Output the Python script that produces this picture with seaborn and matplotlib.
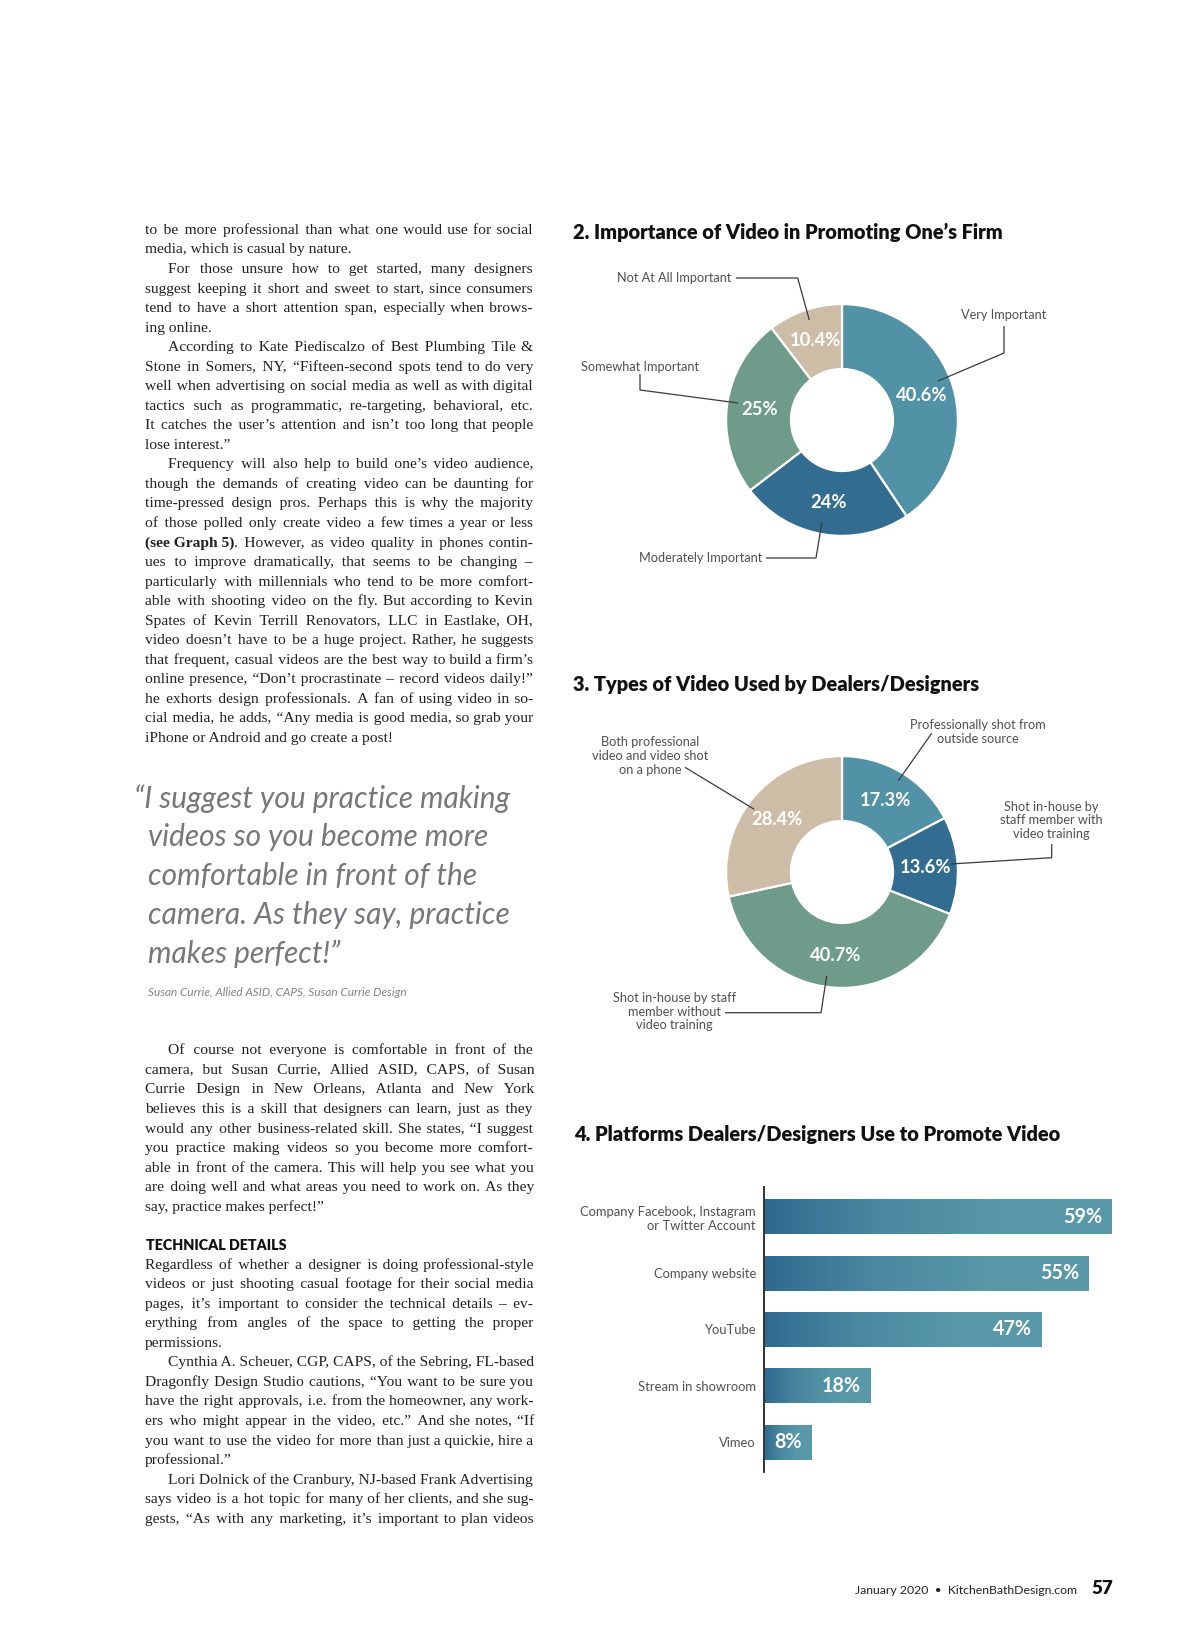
import numpy as np
import pandas as pd
import seaborn as sns
import matplotlib.pyplot as plt
from matplotlib.colors import LinearSegmentedColormap
from matplotlib.font_manager import FontProperties

W, H = 1200, 1639

# --- chart 2: importance of video
imp_labels = ["Very Important", "Moderately Important", "Somewhat Important", "Not At All Important"]
imp_values = [40.6, 24, 25, 10.4]
imp_text = ["40.6%", "24%", "25%", "10.4%"]

# --- chart 3: types of video
type_labels = [
    "Professionally shot from\noutside source",
    "Shot in-house by\nstaff member with\nvideo training",
    "Shot in-house by staff\nmember without\nvideo training",
    "Both professional\nvideo and video shot\non a phone",
]
type_values = [17.3, 13.6, 40.7, 28.4]
type_text = ["17.3%", "13.6%", "40.7%", "28.4%"]

# --- chart 4: platforms
platforms = [
    "Company Facebook, Instagram\nor Twitter Account",
    "Company website",
    "YouTube",
    "Stream in showroom",
    "Vimeo",
]
platform_share = [59, 55, 47, 18, 8]

ring_colors = ["#5292a6", "#326c91", "#6f9b8a", "#cdbda7"]

# --- article text, one entry per printed line: (indent first line, lines, justify last line)
col1_top = [
    (False, ["to be more professional than what one would use for social",
             "media, which is casual by nature."], False),
    (True, ["For those unsure how to get started, many designers",
            "suggest keeping it short and sweet to start, since consumers",
            "tend to have a short attention span, especially when brows-",
            "ing online."], False),
    (True, ["According to Kate Piediscalzo of Best Plumbing Tile &",
            "Stone in Somers, NY, “Fifteen-second spots tend to do very",
            "well when advertising on social media as well as with digital",
            "tactics such as programmatic, re-targeting, behavioral, etc.",
            "It catches the user’s attention and isn’t too long that people",
            "lose interest.”"], False),
    (True, ["Frequency will also help to build one’s video audience,",
            "though the demands of creating video can be daunting for",
            "time-pressed design pros. Perhaps this is why the majority",
            "of those polled only create video a few times a year or less",
            "**(see Graph 5)**. However, as video quality in phones contin-",
            "ues to improve dramatically, that seems to be changing –",
            "particularly with millennials who tend to be more comfort-",
            "able with shooting video on the fly. But according to Kevin",
            "Spates of Kevin Terrill Renovators, LLC in Eastlake, OH,",
            "video doesn’t have to be a huge project. Rather, he suggests",
            "that frequent, casual videos are the best way to build a firm’s",
            "online presence, “Don’t procrastinate – record videos daily!”",
            "he exhorts design professionals. A fan of using video in so-",
            "cial media, he adds, “Any media is good media, so grab your",
            "iPhone or Android and go create a post!"], False),
]
col1_mid = [
    (True, ["Of course not everyone is comfortable in front of the",
            "camera, but Susan Currie, Allied ASID, CAPS, of Susan",
            "Currie Design in New Orleans, Atlanta and New York",
            "believes this is a skill that designers can learn, just as they",
            "would any other business-related skill. She states, “I suggest",
            "you practice making videos so you become more comfort-",
            "able in front of the camera. This will help you see what you",
            "are doing well and what areas you need to work on. As they",
            "say, practice makes perfect!”"], False),
]
col1_bottom = [
    (False, ["Regardless of whether a designer is doing professional-style",
             "videos or just shooting casual footage for their social media",
             "pages, it’s important to consider the technical details – ev-",
             "erything from angles of the space to getting the proper",
             "permissions."], False),
    (True, ["Cynthia A. Scheuer, CGP, CAPS, of the Sebring, FL-based",
            "Dragonfly Design Studio cautions, “You want to be sure you",
            "have the right approvals, i.e. from the homeowner, any work-",
            "ers who might appear in the video, etc.” And she notes, “If",
            "you want to use the video for more than just a quickie, hire a",
            "professional.”"], False),
    (True, ["Lori Dolnick of the Cranbury, NJ-based Frank Advertising",
            "says video is a hot topic for many of her clients, and she sug-",
            "gests, “As with any marketing, it’s important to plan videos"], True),
]
quote_lines = ["“I suggest you practice making", "videos so you become more",
               "comfortable in front of the", "camera. As they say, practice",
               "makes perfect!”"]
quote_credit = "Susan Currie, Allied ASID, CAPS, Susan Currie Design"

sns.set_theme(style="white")
plt.rcParams["font.family"] = ["Lato", "DejaVu Sans"]

fig = plt.figure(figsize=(W / 100, H / 100), dpi=100)
fig.patch.set_facecolor("white")
renderer = fig.canvas.get_renderer()


def px_axes(x, y, w, h, z=1):
    ax = fig.add_axes([x / W, 1 - (y + h) / H, w / W, h / H])
    ax.set_zorder(z)
    return ax


page = px_axes(0, 0, W, H, z=10)
page.set_xlim(0, W)
page.set_ylim(H, 0)
page.axis("off")
page.patch.set_alpha(0)

# --- body text, justified with hair spaces so each line stays one text object
SERIF = ["Liberation Serif", "DejaVu Serif"]
body_fp = FontProperties(family=SERIF, size=11.15)
bold_fp = FontProperties(family=SERIF, size=11.15, weight="bold")
LEFT, RIGHT, STEP, INDENT = 145, 533, 19.54, 23
INK = "#231f20"
HAIR = "\u200a"


def tw(s, fp):
    return renderer.get_text_width_height_descent(s, fp, ismath=False)[0]


hair_w = (tw("x" + HAIR * 10 + "x", body_fp) - tw("xx", body_fp)) / 10
if hair_w < 0.3:
    HAIR = "\u2009"
    hair_w = (tw("x" + HAIR * 10 + "x", body_fp) - tw("xx", body_fp)) / 10


def stretch(s, fp, target):
    words = s.split(" ")
    n = len(words) - 1
    if n < 1 or hair_w <= 0:
        return s
    k = int(round((target - tw(s, fp)) / hair_w))
    if k <= 0:
        return s
    out = words[0]
    for i, w in enumerate(words[1:]):
        out += " " + HAIR * (k // n + (1 if i < k % n else 0)) + w
    return out


def set_line(y, line, justify, indent):
    parts = line.split("**")
    x = LEFT + (INDENT if indent else 0)
    for i, part in enumerate(parts):
        if not part:
            continue
        fp = bold_fp if i % 2 else body_fp
        if justify and i == len(parts) - 1:
            part = stretch(part, fp, RIGHT - x)
        page.text(x, y + 6, part, fontproperties=fp, color=INK, ha="left", va="baseline")
        x += tw(part, fp)


def set_block(y, paragraphs):
    for indent, lines, last_just in paragraphs:
        for i, line in enumerate(lines):
            last = i == len(lines) - 1
            set_line(y, line, (not last) or last_just, indent and i == 0)
            y += STEP
    return y


set_block(227.9, col1_top)
set_block(1048.4, col1_mid)
page.text(146, 1246, "TECHNICAL DETAILS", fontsize=10.3, fontweight="heavy", color="#111111",
          ha="left", va="center")
set_block(1262.7, col1_bottom)

# --- pull quote
qy = [798.6, 837.3, 876, 914.6, 953.3]
for i, (line, y) in enumerate(zip(quote_lines, qy)):
    page.text(134 if i == 0 else 147.5, y, line, fontsize=21.5, fontstyle="italic",
              color="#76777a", ha="left", va="center")
page.text(147.5, 993, quote_credit, fontsize=8.5, fontstyle="italic",
          color="#808285", ha="left", va="center")

# --- donut charts
R = 116.5
LABEL_KW = dict(fontsize=9.2, color="#505052", linespacing=1.15)


def donut(cx, cy, values, pct_text, callouts):
    ax = px_axes(cx - R, cy - R, 2 * R, 2 * R)
    wedges, _, autotexts = ax.pie(
        values, colors=ring_colors, startangle=90, counterclock=False, radius=1,
        autopct="%1.1f%%", pctdistance=0.72,
        wedgeprops=dict(width=0.56, edgecolor="white", linewidth=1.6),
        textprops=dict(color="white", fontsize=13.2, fontweight="bold"),
    )
    for t, s in zip(autotexts, pct_text):
        t.set_text(s)
    ax.set_xlim(-1.005, 1.005)
    ax.set_ylim(-1.005, 1.005)
    ax.set_aspect("equal")
    ax.axis("off")
    for label, (tx, ty, ha), path in callouts:
        page.text(tx, ty, label, ha=ha, va="center", multialignment="center", **LABEL_KW)
        xs, ys = zip(*path)
        page.plot(xs, ys, color="#3a3a3a", lw=0.9, solid_capstyle="butt")


TITLE_KW = dict(fontsize=14.45, fontweight="heavy", color="#111111", ha="left", va="center")
page.text(573, 232, "2. Importance of Video in Promoting One’s Firm", **TITLE_KW)
donut(842, 420, imp_values, imp_text, [
    (imp_labels[0], (1004, 315, "center"), [(1004, 326), (1004, 353), (938, 381)]),
    (imp_labels[1], (762, 558, "right"), [(766, 558), (816, 558), (822, 522)]),
    (imp_labels[2], (640, 367, "center"), [(640, 374), (640, 390), (738, 403)]),
    (imp_labels[3], (731, 278, "right"), [(736, 278), (797.7, 278), (809.3, 320)]),
])

page.text(573, 684, "3. Types of Video Used by Dealers/Designers", **TITLE_KW)
donut(842, 872, type_values, type_text, [
    (type_labels[0], (977.7, 731.8, "center"), [(931.7, 733.3), (898.3, 780.7)]),
    (type_labels[1], (1051.7, 820.5, "center"), [(1051.7, 844), (1051.7, 857.7), (950.7, 864)]),
    (type_labels[2], (674.3, 1011.5, "center"), [(725, 1012.7), (821, 1012.7), (826.7, 976)]),
    (type_labels[3], (650, 756, "center"), [(685, 767.3), (754.3, 809.3)]),
])

# --- bar chart
page.text(574, 1135, "4. Platforms Dealers/Designers Use to Promote Video", **TITLE_KW)
PX_PER_PCT = 5.895
bx = px_axes(764, 1187.3, 60 * PX_PER_PCT, 284.4)
df = pd.DataFrame({"platform": platforms, "share": platform_share})
sns.barplot(data=df, y="platform", x="share", orient="h", width=0.62, color=ring_colors[0],
            saturation=1, ax=bx)
cmap = LinearSegmentedColormap.from_list("bar", ["#2f6a8f", "#4a88a0", "#5797a8", "#5a99a9"])
grad = np.linspace(0, 1, 256).reshape(1, -1)
for p, v in zip(bx.patches, platform_share):
    x0, y0, w, h = p.get_x(), p.get_y(), p.get_width(), p.get_height()
    bx.imshow(grad, extent=[x0, x0 + w, y0 + h, y0], cmap=cmap, aspect="auto",
              interpolation="bicubic", zorder=p.get_zorder())
    p.set_facecolor("none")
    p.set_edgecolor("none")
    bx.annotate(f"{v}%", xy=(v, y0 + h / 2), xytext=(-6.5, 0), textcoords="offset points",
                ha="right", va="center", color="white", fontsize=14.2, fontweight="bold")
bx.set_xlim(0, 60)
bx.set_ylim(4.52, -0.52)
bx.set_xlabel("")
bx.set_ylabel("")
bx.set_xticks([])
for s in ["top", "right", "bottom"]:
    bx.spines[s].set_visible(False)
bx.spines["left"].set_color("#333333")
bx.spines["left"].set_linewidth(1.4)
bx.tick_params(axis="y", length=0, pad=5.8)
for t in bx.get_yticklabels():
    t.set_fontsize(9.4)
    t.set_color("#505052")
    t.set_linespacing(1.2)
bx.set_facecolor("none")

# --- footer
page.text(1076.7, 1590, "January 2020  •  KitchenBathDesign.com", fontsize=8.8, color="#231f20",
          ha="right", va="center")
page.text(1091, 1588, "57", fontsize=13.5, fontweight="heavy", color="#111111", ha="left",
          va="center")

fig.savefig("out.png", dpi=100)
